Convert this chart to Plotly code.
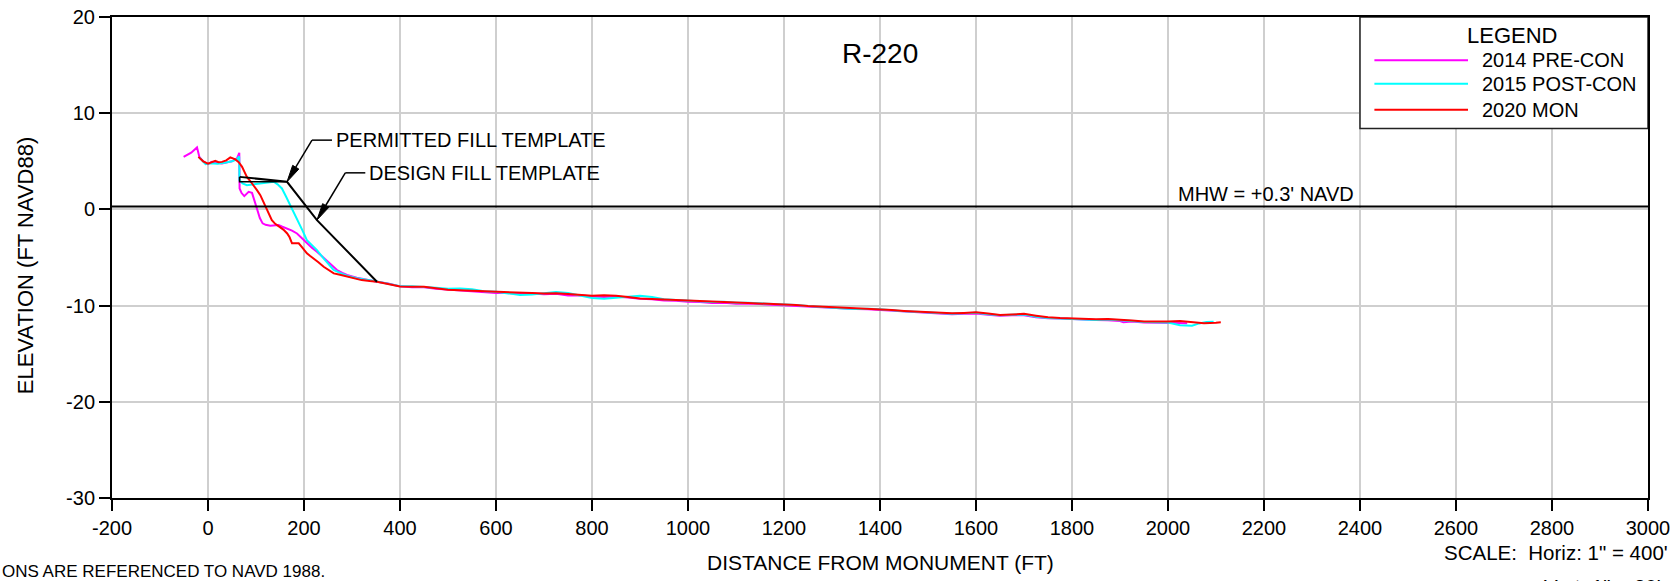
import math
import plotly.graph_objects as go

# ---------------- data ----------------
PRE_X = [-50.8, -35, -22.9, -18, -10, -0.8, 8.3, 18, 29, 40, 50, 60.4, 65.2, 65.8, 70, 75.6, 84.6, 91.7,
         97, 102, 108, 113.8, 120, 129.8, 147, 155, 164.6, 175, 185.4, 196, 206.2, 217, 227, 238, 248,
         258, 268.8, 280, 289.6, 310, 331, 352, 375,
         400, 425, 450, 475, 500, 525, 550, 575, 600, 625, 650, 675, 700, 725, 750, 775, 800, 825, 850,
         875, 900, 925, 950, 975, 1000, 1025, 1050, 1075, 1100, 1125, 1150, 1175, 1200, 1225, 1250, 1275,
         1300, 1325, 1350, 1375, 1400, 1425, 1450, 1475, 1500, 1525, 1550, 1575, 1600, 1625, 1650, 1675,
         1700, 1725, 1750, 1775, 1800, 1825, 1850, 1875, 1900, 1907, 1925, 1950, 1975, 2000, 2025, 2040]
PRE_Y = [5.46, 5.9, 6.44, 5.46, 5.0, 4.7, 4.94, 4.85, 4.77, 4.9, 5.0, 5.3, 5.88, 2.18, 1.7, 1.38, 1.83, 1.72,
         0.8, -0.07, -0.9, -1.45, -1.6, -1.7, -1.63, -1.8, -1.98, -2.2, -2.5, -3.0, -3.53, -4.0, -4.4, -4.9, -5.44,
         -5.9, -6.3, -6.6, -6.82, -7.1, -7.34, -7.52, -7.7,
         -8.0, -8.08, -8.1, -8.25, -8.35, -8.45, -8.5, -8.6, -8.7, -8.68, -8.8, -8.75, -8.82, -8.78, -8.95, -8.92,
         -9.05, -9.1, -9.05, -9.15, -9.3, -9.35, -9.48, -9.5, -9.6, -9.62, -9.72, -9.7, -9.8, -9.78, -9.85, -9.88,
         -9.95, -10.0, -10.12, -10.15, -10.25, -10.3, -10.35, -10.38, -10.45, -10.55, -10.62, -10.7, -10.78,
         -10.82, -10.9, -10.85, -10.82, -10.95, -11.05, -11.0, -11.0, -11.2, -11.32, -11.35, -11.42, -11.48,
         -11.5, -11.52, -11.6, -11.72, -11.65, -11.75, -11.78, -11.8, -11.82, -11.84]

POST_X = [-18, -5, 5, 20, 35, 50, 60, 65, 65.5, 72, 81, 92, 102, 115, 128, 137, 145, 154, 162, 171.5, 180,
          188.8, 197, 206, 216.7, 227, 240.8, 248, 261.7, 275, 289.6, 310, 330, 352, 375,
          400, 425, 450, 475, 500, 525, 550, 575, 600, 625, 650, 675, 700, 725, 750, 775, 800, 825, 850,
          875, 900, 925, 950, 975, 1000, 1025, 1050, 1075, 1100, 1125, 1150, 1175, 1200, 1225, 1250, 1275,
          1300, 1325, 1350, 1375, 1400, 1425, 1450, 1475, 1500, 1525, 1550, 1575, 1600, 1625, 1650, 1675,
          1700, 1725, 1750, 1775, 1800, 1825, 1850, 1875, 1900, 1925, 1950, 1975, 2000, 2025, 2050, 2065,
          2080, 2095]
POST_Y = [5.4, 4.7, 4.8, 4.75, 4.85, 5.0, 5.2, 5.5, 3.05, 2.7, 2.52, 2.6, 2.63, 2.7, 2.8, 2.87, 2.6, 2.18,
          1.4, 0.45, -0.5, -1.45, -2.2, -3.19, -3.71, -4.23, -5.1, -5.54, -6.3, -6.6, -6.9, -7.15, -7.35, -7.5,
          -7.72,
          -7.98, -8.0, -8.05, -8.15, -8.25, -8.22, -8.3, -8.5, -8.55, -8.75, -8.9, -8.85, -8.7, -8.58, -8.68,
          -8.95, -9.2, -9.3, -9.2, -9.05, -8.98, -9.1, -9.35, -9.42, -9.5, -9.52, -9.62, -9.6, -9.7, -9.7,
          -9.75, -9.82, -9.9, -9.95, -10.05, -10.15, -10.2, -10.3, -10.35, -10.32, -10.38, -10.5, -10.6,
          -10.65, -10.7, -10.82, -10.85, -10.8, -10.75, -10.9, -11.0, -10.95, -10.92, -11.15, -11.3, -11.35,
          -11.38, -11.45, -11.5, -11.45, -11.5, -11.6, -11.7, -11.72, -11.75, -12.05, -12.1, -11.85, -11.7,
          -11.68]

MON_X = [-20, -10, 0, 8, 15, 22, 29, 38, 46.5, 52, 57, 64, 71, 76, 81, 88, 95, 102, 109, 116, 123, 128,
         133, 140, 150, 157, 165, 170, 175, 182, 189, 197, 206, 213, 220, 230, 241, 251, 262, 275, 290, 303,
         320, 337, 352, 375,
         400, 425, 450, 475, 500, 525, 550, 575, 600, 625, 650, 675, 700, 725, 750, 775, 800, 825, 850,
         875, 900, 925, 950, 975, 1000, 1025, 1050, 1075, 1100, 1125, 1150, 1175, 1200, 1225, 1250, 1275,
         1300, 1325, 1350, 1375, 1400, 1425, 1450, 1475, 1500, 1525, 1550, 1575, 1600, 1625, 1650, 1675,
         1700, 1725, 1750, 1775, 1800, 1825, 1850, 1875, 1900, 1925, 1950, 1975, 2000, 2025, 2050, 2075,
         2100, 2110]
MON_Y = [5.46, 5.0, 4.75, 4.95, 5.05, 4.9, 4.94, 5.1, 5.4, 5.3, 5.19, 4.9, 4.42, 3.9, 3.38, 2.95, 2.52, 2.0,
         1.48, 0.75, -0.07, -0.6, -1.11, -1.5, -1.8, -2.1, -2.5, -2.9, -3.53, -3.55, -3.53, -4.0, -4.57, -4.85,
         -5.09, -5.5, -5.96, -6.3, -6.65, -6.8, -7.0, -7.2, -7.35, -7.45, -7.52, -7.75,
         -8.02, -8.05, -8.04, -8.2, -8.35, -8.4, -8.45, -8.55, -8.62, -8.65, -8.72, -8.7, -8.74, -8.72, -8.8,
         -8.9, -8.98, -8.93, -8.97, -9.1, -9.25, -9.32, -9.38, -9.45, -9.5, -9.55, -9.6, -9.65, -9.68, -9.72,
         -9.76, -9.8, -9.85, -9.95, -10.05, -10.1, -10.18, -10.24, -10.26, -10.3, -10.38, -10.46, -10.55,
         -10.62, -10.68, -10.75, -10.8, -10.76, -10.7, -10.82, -10.98, -10.92, -10.86, -11.05, -11.22, -11.3,
         -11.35, -11.38, -11.42, -11.4, -11.45, -11.55, -11.65, -11.67, -11.66, -11.6, -11.75, -11.84, -11.78,
         -11.74]

PERMIT_X = [65.8, 164.6, 227, 352]
PERMIT_Y = [3.38, 2.87, -1.11, -7.52]
DESIGN_X = [65.8, 65.8, 164.6]
DESIGN_Y = [3.38, 2.87, 2.87]

MHW = 0.3
SERIES_NAMES = ["2014 PRE-CON", "2015 POST-CON", "2020 MON"]
SERIES_COLORS = ["#ff00ff", "#00ffff", "#ff0000"]

X_TICKS = list(range(-200, 3001, 200))
X_LABELS = [str(v) for v in X_TICKS]
Y_TICKS = [-30, -20, -10, 0, 10, 20]
Y_LABELS = [str(v) for v in Y_TICKS]

FONT = "Liberation Sans, Arial, sans-serif"

# ---------------- geometry ----------------
W, H = 1679, 581
ML, MR, MT, MB = 112, 31, 17, 83
XR = [-200, 3000]
YR = [-30, 20]
PX_PER_X = (W - ML - MR) / (XR[1] - XR[0])
PX_PER_Y = (H - MT - MB) / (YR[1] - YR[0])

# ---------------- figure ----------------
fig = go.Figure()
for xs, ys, name, col in zip([PRE_X, POST_X, MON_X], [PRE_Y, POST_Y, MON_Y], SERIES_NAMES, SERIES_COLORS):
    fig.add_trace(go.Scatter(x=xs, y=ys, mode="lines", name=name,
                             line=dict(color=col, width=2), showlegend=False))
fig.add_trace(go.Scatter(x=PERMIT_X, y=PERMIT_Y, mode="lines", name="PERMITTED FILL TEMPLATE",
                         line=dict(color="black", width=2), showlegend=False))
fig.add_trace(go.Scatter(x=DESIGN_X, y=DESIGN_Y, mode="lines", name="DESIGN FILL TEMPLATE",
                         line=dict(color="black", width=1.5), showlegend=False))

shapes = []
annotations = []

# MHW line
shapes.append(dict(type="line", xref="paper", yref="y", x0=0, x1=1, y0=MHW, y1=MHW,
                   line=dict(color="black", width=1.8)))
annotations.append(dict(x=2204, y=MHW, xref="x", yref="y", text="MHW = +0.3' NAVD",
                        showarrow=False, xanchor="center", yanchor="bottom", yshift=0,
                        font=dict(size=20, color="black", family=FONT)))


# Leaders with slender filled arrowheads
def leader(tip, elbow, hend, txt, head_len=17.0, head_half=3.6):
    dxp = (tip[0] - elbow[0]) * PX_PER_X
    dyp = (tip[1] - elbow[1]) * PX_PER_Y
    L = math.hypot(dxp, dyp)
    ux, uy = dxp / L, dyp / L
    nx, ny = -uy, ux
    bx = tip[0] - head_len * ux / PX_PER_X
    by = tip[1] - head_len * uy / PX_PER_Y
    c1 = (bx + head_half * nx / PX_PER_X, by + head_half * ny / PX_PER_Y)
    c2 = (bx - head_half * nx / PX_PER_X, by - head_half * ny / PX_PER_Y)
    shapes.append(dict(type="line", xref="x", yref="y", x0=elbow[0], y0=elbow[1], x1=bx, y1=by,
                       line=dict(color="black", width=1.5)))
    shapes.append(dict(type="path", xref="x", yref="y",
                       path=f"M {tip[0]},{tip[1]} L {c1[0]},{c1[1]} L {c2[0]},{c2[1]} Z",
                       fillcolor="black", line=dict(color="black", width=1)))
    shapes.append(dict(type="line", xref="x", yref="y", x0=elbow[0], y0=elbow[1], x1=hend, y1=elbow[1],
                       line=dict(color="black", width=1.5)))
    annotations.append(dict(x=hend, y=elbow[1], xref="x", yref="y", text=txt, showarrow=False,
                            xanchor="left", yanchor="middle", xshift=2,
                            font=dict(size=20, color="black", family=FONT)))


leader((PERMIT_X[1], PERMIT_Y[1]), (216.7, 7.2), 258.3, "PERMITTED FILL TEMPLATE")
leader((PERMIT_X[2], PERMIT_Y[2]), (286.0, 3.8), 327.7, "DESIGN FILL TEMPLATE")

# Custom legend box
shapes.append(dict(type="rect", xref="x", yref="y", x0=2400, x1=3000, y0=8.4, y1=20,
                   fillcolor="white", line=dict(color="#222222", width=1.5)))
annotations.append(dict(x=2716, y=18.1, xref="x", yref="y", text="LEGEND", showarrow=False,
                        xanchor="center", yanchor="middle",
                        font=dict(size=22, color="black", family=FONT)))
for name, col, yy in zip(SERIES_NAMES, SERIES_COLORS, [15.5, 13.05, 10.35]):
    shapes.append(dict(type="line", xref="x", yref="y", x0=2430, x1=2625, y0=yy, y1=yy,
                       line=dict(color=col, width=2)))
    annotations.append(dict(x=2650, y=yy, xref="x", yref="y", text=name, showarrow=False,
                            xanchor="left", yanchor="middle",
                            font=dict(size=20, color="black", family=FONT)))

# Title & axis titles
annotations.append(dict(x=0.5, y=0.924, xref="paper", yref="paper", text="R-220", showarrow=False,
                        xanchor="center", yanchor="middle", font=dict(size=28, color="black", family=FONT)))
annotations.append(dict(x=0.5, y=-0.135, xref="paper", yref="paper", text="DISTANCE FROM MONUMENT (FT)",
                        showarrow=False, xanchor="center", yanchor="middle",
                        font=dict(size=21, color="black", family=FONT)))
annotations.append(dict(x=-0.0566, y=0.484, xref="paper", yref="paper", text="ELEVATION (FT NAVD88)",
                        showarrow=False, xanchor="center", yanchor="middle", textangle=-90,
                        font=dict(size=22, color="black", family=FONT)))

# Footnotes
annotations.append(dict(x=(0 - ML) / (W - ML - MR), y=-0.1518, xref="paper", yref="paper",
                        text="ONS ARE REFERENCED TO NAVD 1988.", showarrow=False,
                        xanchor="left", yanchor="middle",
                        font=dict(size=17, color="black", family=FONT)))
annotations.append(dict(x=(1441.7 - ML) / (W - ML - MR), y=-0.1133, xref="paper", yref="paper",
                        text="SCALE:\u00a0\u00a0Horiz: 1\" = 400'", showarrow=False,
                        xanchor="left", yanchor="middle",
                        font=dict(size=20.5, color="black", family=FONT)))
annotations.append(dict(x=(1541.7 - ML) / (W - ML - MR), y=-0.1555, xref="paper", yref="paper",
                        text="Vert: 1\" = 20'", showarrow=False,
                        xanchor="left", yanchor="top",
                        font=dict(size=20.5, color="black", family=FONT)))

axis_common = dict(showgrid=True, gridcolor="#cfcfcf", gridwidth=1.5, showline=True, linecolor="black",
                   linewidth=2, mirror=True, ticks="outside", ticklen=11, tickwidth=1.5, tickcolor="black",
                   zeroline=False, automargin=False, tickfont=dict(size=20, color="black", family=FONT))

fig.update_layout(
    width=W, height=H,
    margin=dict(l=ML, r=MR, t=MT, b=MB, pad=0),
    paper_bgcolor="white", plot_bgcolor="white",
    xaxis=dict(range=XR, tickmode="array", tickvals=X_TICKS, ticktext=X_LABELS, **axis_common),
    yaxis=dict(range=YR, tickmode="array", tickvals=Y_TICKS, ticktext=Y_LABELS, **axis_common),
    shapes=shapes, annotations=annotations, showlegend=False,
    font=dict(family=FONT, color="black"),
)

fig.write_html("out.html", config={"displayModeBar": False},
               post_script="document.body.style.margin='0';document.body.style.overflow='hidden';")
